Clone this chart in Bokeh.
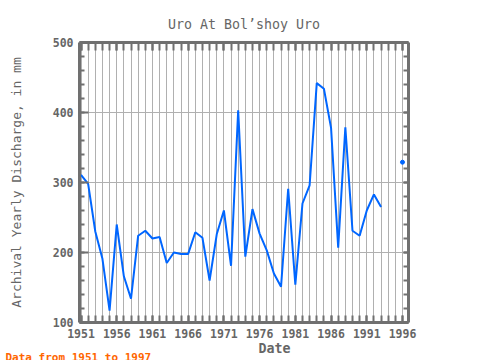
from bokeh.plotting import figure
from bokeh.models import Range1d, LinearAxis, FixedTicker, Title
from bokeh.embed import file_html
from bokeh.resources import INLINE

years = list(range(1951, 1994))
discharge = [311, 298, 230, 191, 117, 240, 166, 134, 224, 231, 220, 222, 185, 200,
             198, 198, 229, 221, 160, 226, 260, 181, 403, 194, 262, 227, 203, 170,
             151, 291, 154, 270, 296, 442, 434, 378, 207, 379, 231, 224, 260, 283, 265]
extra_years = [1996]
extra_values = [329]

major_years = list(range(1951, 1997, 5))
all_years = list(range(1951, 1997))
y_major = [100, 200, 300, 400, 500]
y_minor = list(range(100, 501, 20))

title_text = "Uro At Bol\u2019shoy Uro"
ylabel_text = "Archival Yearly Discharge, in mm"
xlabel_text = "Date"
note_text = "Data from 1951 to 1997"

GRAY = "#707070"
TXT = "#666666"
FONT = "DejaVu Sans Mono"

W, H = 480, 360
FL, FT, FR, FB = 79, 42, 408, 322

p = figure(width=W, height=H, output_backend="svg", toolbar_location=None,
           x_range=Range1d(1950.79, 1996.84), y_range=Range1d(100, 500),
           min_border_left=FL, min_border_right=W - FR, min_border_top=FT, min_border_bottom=H - FB,
           x_axis_location=None, y_axis_location=None)
p.outline_line_color = None
p.background_fill_color = "white"

p.title.text = title_text
p.title.align = "center"
p.title.standoff = 22
p.title.text_font = FONT
p.title.text_font_size = "13.3px"
p.title.text_font_style = "normal"
p.title.text_color = TXT

def style_axis(ax, ticker, labels, tick_in, minor_in):
    ax.ticker = ticker
    ax.axis_line_color = GRAY
    ax.axis_line_width = 3
    ax.major_tick_line_color = GRAY
    ax.major_tick_line_width = 2
    ax.minor_tick_line_color = GRAY
    ax.minor_tick_line_width = 2
    ax.major_tick_in = tick_in
    ax.major_tick_out = 0
    ax.minor_tick_in = minor_in
    ax.minor_tick_out = 0
    ax.major_label_text_font = FONT
    ax.major_label_text_font_style = "bold"
    ax.major_label_text_font_size = "11.5px"
    ax.major_label_text_color = TXT
    ax.major_label_standoff = 6
    if not labels:
        ax.major_label_text_alpha = 0
        ax.major_label_text_font_size = "0px"
        ax.major_label_standoff = 0
    return ax

axes = {}
for loc, ticks, minors, lab, tin, mtin in [("below", major_years, all_years, True, 7, 7),
                                            ("above", major_years, all_years, False, 8, 8),
                                            ("left", y_major, y_minor, True, 9, 5),
                                            ("right", y_major, y_minor, False, 5, 5)]:
    ax = style_axis(LinearAxis(), FixedTicker(ticks=ticks, minor_ticks=minors), lab, tin, mtin)
    axes[loc] = ax
    p.add_layout(ax, loc)

ly = axes["left"]
ly.axis_label = ylabel_text
ly.axis_label_standoff = 26
ly.axis_label_text_font = FONT
ly.axis_label_text_font_size = "13px"
ly.axis_label_text_font_style = "normal"
ly.axis_label_text_color = TXT

p.xgrid.ticker = FixedTicker(ticks=all_years)
p.ygrid.ticker = FixedTicker(ticks=y_major)
p.xgrid.grid_line_color = "#b0b0b0"
p.ygrid.grid_line_color = "#b0b0b0"
p.xgrid.grid_line_width = 1
p.ygrid.grid_line_width = 1

p.line(years, discharge, line_color="#0066ff", line_width=2)
p.scatter(extra_years, extra_values, size=4, color="#0066ff")

p.add_layout(Title(text=xlabel_text, align="left", offset=179, standoff=-3,
                   text_font=FONT, text_font_size="13.3px", text_font_style="bold",
                   text_color=TXT), "below")
p.add_layout(Title(text=note_text, align="left", offset=-74, standoff=-19,
                   text_font=FONT, text_font_size="11px", text_font_style="bold",
                   text_color="#ff6600"), "below")

open("out.html", "w").write(file_html(p, INLINE))
